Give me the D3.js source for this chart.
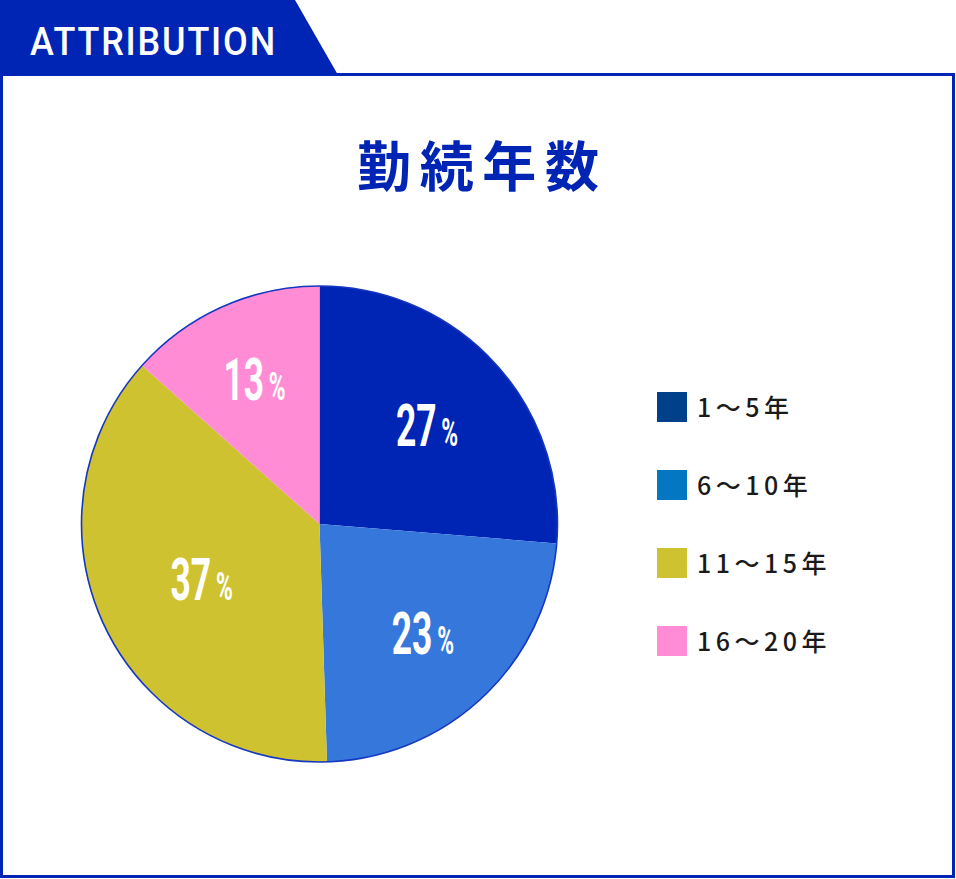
<!DOCTYPE html>
<html>
<head>
<meta charset="utf-8">
<script src="https://cdn.jsdelivr.net/npm/d3@7"></script>
<style>
  body { margin: 0; background: #fff; }
  svg { display: block; }
</style>
</head>
<body>
<div id="chart"></div>
<script>
// values (labels are the rounded figures printed on the slices)
const categories = ["1～5年", "6～10年", "11～15年", "16～20年"];
const shares = [26.3, 23.2, 37.1, 13.4];
const sliceLabels = ["27", "23", "37", "13"];
const sliceColors = ["#0025b5", "#3677db", "#cfc230", "#ff8cd4"];
const legendColors = ["#00408a", "#0477c3", "#cfc230", "#ff8cd4"];

const width = 956, height = 879;
const blue = "#0025b5";

const svg = d3.select("#chart")
  .append("svg")
  .attr("width", width)
  .attr("height", height);

// frame
svg.append("rect")
  .attr("x", 1.5)
  .attr("y", 74.5)
  .attr("width", 952)
  .attr("height", 802)
  .attr("fill", "none")
  .attr("stroke", blue)
  .attr("stroke-width", 3);

// header tab
svg.append("path")
  .attr("d", "M0,0 L295,0 L338,75 L0,75 Z")
  .attr("fill", blue);

svg.append("text")
  .attr("x", 30)
  .attr("y", 55)
  .attr("textLength", 247)
  .attr("lengthAdjust", "spacingAndGlyphs")
  .attr("fill", "#fff")
  .style("font-family", "Roboto, 'DejaVu Sans', sans-serif")
  .style("font-weight", 500)
  .style("font-size", "39px")
  .style("letter-spacing", "2px")
  .text("ATTRIBUTION");

// title
svg.append("text")
  .attr("x", 357)
  .attr("y", 187)
  .attr("textLength", 242)
  .attr("lengthAdjust", "spacing")
  .attr("fill", blue)
  .style("font-family", "'Noto Sans CJK JP', sans-serif")
  .style("font-weight", 700)
  .style("font-size", "54px")
  .text("勤続年数");

// pie
const cx = 319.5, cy = 524, r = 238;

const pie = d3.pie().sort(null).value(d => d);
const arcs = pie(shares);

const arc = d3.arc().innerRadius(0).outerRadius(r);

// label sits near the geometric centroid of each sector
function labelPos(d) {
  const half = (d.endAngle - d.startAngle) / 2;
  const dist = 2 * r * Math.sin(half) / (3 * half) + 5;
  const a = (d.startAngle + d.endAngle) / 2;
  return [dist * Math.sin(a), -dist * Math.cos(a)];
}

const g = svg.append("g")
  .attr("transform", `translate(${cx},${cy})`);

g.selectAll("path.slice")
  .data(arcs)
  .join("path")
    .attr("class", "slice")
    .attr("d", arc)
    .attr("fill", (d, i) => sliceColors[i]);

g.append("circle")
  .attr("r", r)
  .attr("fill", "none")
  .attr("stroke", "#1438c0")
  .attr("stroke-width", 1.6);

const labels = g.selectAll("g.lbl")
  .data(arcs)
  .join("g")
    .attr("class", "lbl")
    .attr("transform", d => {
      const [x, y] = labelPos(d);
      return `translate(${x},${y + 21}) scale(0.6,1)`;
    });

labels.append("text")
  .attr("text-anchor", "middle")
  .attr("fill", "#fff")
  .style("font-family", "Roboto, 'DejaVu Sans', sans-serif")
  .style("font-weight", 700)
  .call(t => t.append("tspan")
    .style("font-size", "59px")
    .text((d, i) => sliceLabels[i]))
  .call(t => t.append("tspan")
    .attr("dx", 8)
    .style("font-size", "38px")
    .text("%"));

// legend
const ly = d3.scalePoint()
  .domain(categories)
  .range([392, 626]);

const legend = svg.append("g")
  .selectAll("g")
  .data(categories)
  .join("g")
    .attr("transform", d => `translate(657,${ly(d)})`);

legend.append("rect")
  .attr("width", 30)
  .attr("height", 30)
  .attr("fill", (d, i) => legendColors[i]);

legend.append("text")
  .attr("x", 40)
  .attr("y", 25)
  .attr("fill", "#1a1a1a")
  .style("font-family", "'Noto Sans CJK JP', sans-serif")
  .style("font-weight", 500)
  .style("font-size", "25px")
  .style("letter-spacing", "4.5px")
  .text(d => d);
</script>
</body>
</html>
